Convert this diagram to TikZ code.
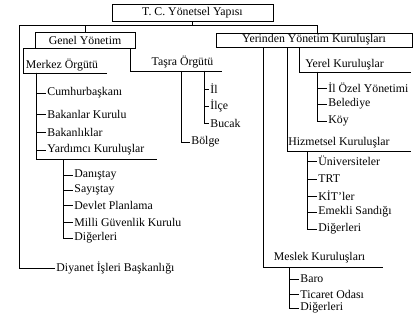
\documentclass[tikz,border=0pt]{standalone}
\usepackage{fontspec}
\setmainfont{Liberation Serif}
\begin{document}
\begin{tikzpicture}[x=1pt,y=-1pt,line width=.9pt,
  every node/.style={font=\fontsize{11.8}{14}\selectfont},
  kutu/.style={draw,inner sep=0pt},
  madde/.style={anchor=west,inner sep=1pt}]
\useasboundingbox[fill=white] (0,0) rectangle (419,323);
\node at(192.5,12.5)[kutu,minimum width=161pt,minimum height=17pt](tc){T. C. Yönetsel Yapısı};
\node at(85,40)[kutu,minimum width=100pt,minimum height=16pt](gy){Genel Yönetim};
\node at(314,40)[kutu,minimum width=196pt,minimum height=14pt](yy){Yerinden Yönetim Kuruluşları};
\node at(55,268)[madde](dy){Diyanet İşleri Başkanlığı};
\coordinate (k) at (19,25);
\draw (tc.south) -- (tc.south |- k);
\draw (gy.north) -- (gy.north |- k);
\draw (dy.west) -| (k) -| ([xshift=3pt]yy.north);
\node at(62,65)(mo){Merkez Örgütü};
\coordinate (mo0) at (23,73);
\coordinate (mo1) at (107,73);
\draw (mo1) -- (mo0) |- (gy.south west);
\coordinate (ya1) at (157,159);
\draw ([xshift=13pt]mo0) |- (ya1);
\foreach \n/\y[count=\i] in {
 Cumhurbaşkanı/93,
 Bakanlar Kurulu/114,
 Bakanlıklar/132,
 Yardımcı Kuruluşlar/150}
{\node at(46,\y)[madde](m\i){\n};
 \draw ([xshift=13pt]mo0) |- (m\i.west);}
\foreach \n/\y[count=\i] in {
 Danıştay/175,
 Sayıştay/190,
 Devlet Planlama/205,
 Milli Güvenlik Kurulu/222,
 Diğerleri/238}
{\node at(73,\y)[madde](y\i){\n};
 \draw ([xshift=-94pt]ya1) |- (y\i.west);}
\node at(182.5,62)(ta){Taşra Örgütü};
\coordinate (ta1) at (222,71);
\draw ([xshift=-5pt]gy.south east) |- (ta1);
\foreach \n/\y[count=\i] in {
 İl/89,
 İlçe/106,
 Bucak/123}
{\node at(209,\y)[madde](t\i){\n};
 \draw ([xshift=-18pt]ta1) |- (t\i.west);}
\node at(190,142)[madde](tb){Bölge};
\draw ([xshift=-41pt]ta1) |- (tb.west);
\node at(344.5,65)(ye){Yerel Kuruluşlar};
\coordinate (ye1) at (411,72);
\draw ([xshift=-15pt]yy.south) |- (ye1);
\foreach \n/\y[count=\i] in {
 İl Özel Yönetimi/88,
 Belediye/104,
 Köy/121}
{\node at(327,\y)[madde](e\i){\n};
 \draw ([xshift=-94pt]ye1) |- (e\i.west);}
\node at(339,143)(hi){Hizmetsel Kuruluşlar};
\coordinate (hi1) at (411,151);
\draw ([xshift=-27pt]yy.south) |- (hi1);
\foreach \n/\y[count=\i] in {
 Üniversiteler/161,
 TRT/179,
 KİT'ler/196,
 Emekli Sandığı/212,
 Diğerleri/229}
{\node at(317,\y)[madde](h\i){\n};
 \draw ([xshift=-104pt]hi1) |- (h\i.west);}
\node at(319.5,258)(me){Meslek Kuruluşları};
\coordinate (me1) at (383,267);
\draw ([xshift=-51pt]yy.south) |- (me1);
\foreach \n/\y[count=\i] in {
 Baro/279,
 Ticaret Odası/294,
 Diğerleri/308}
{\node at(299,\y)[madde](s\i){\n};
 \draw ([xshift=-94pt]me1) |- (s\i.west);}
\end{tikzpicture}
\end{document}
